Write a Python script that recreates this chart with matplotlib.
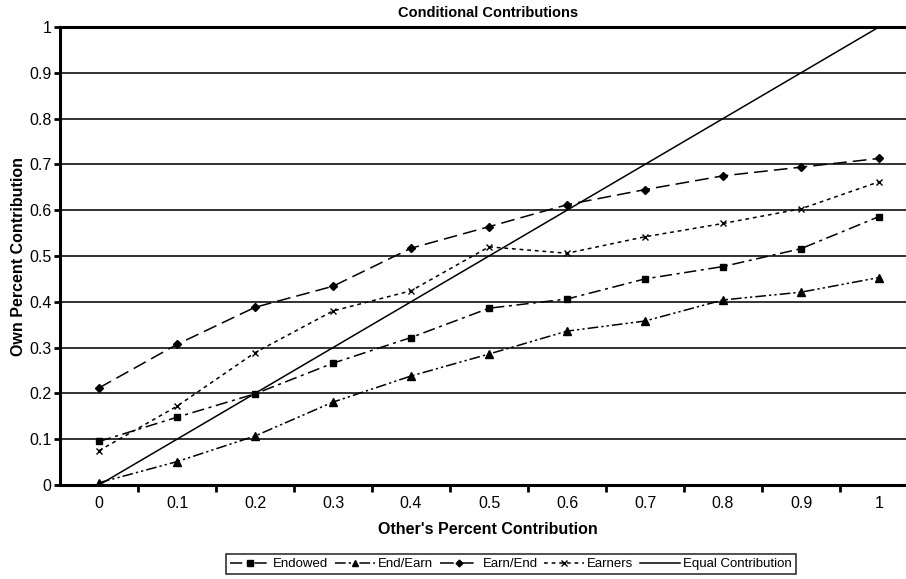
import numpy as np
import matplotlib.pyplot as plt

plt.rcParams['font.family'] = ['Liberation Sans', 'DejaVu Sans']

others = ['0', '0.1', '0.2', '0.3', '0.4', '0.5', '0.6', '0.7', '0.8', '0.9', '1']
equal = [0.0, 0.1, 0.2, 0.3, 0.4, 0.5, 0.6, 0.7, 0.8, 0.9, 1.0]
endowed = [0.095, 0.148, 0.199, 0.266, 0.322, 0.386, 0.406, 0.450, 0.477, 0.516, 0.586]
end_earn = [0.005, 0.051, 0.107, 0.181, 0.238, 0.286, 0.336, 0.358, 0.404, 0.421, 0.453]
earn_end = [0.212, 0.307, 0.388, 0.434, 0.517, 0.564, 0.612, 0.645, 0.675, 0.694, 0.713]
earners = [0.075, 0.172, 0.289, 0.380, 0.424, 0.520, 0.506, 0.542, 0.571, 0.603, 0.662]
yticks = [0, 0.1, 0.2, 0.3, 0.4, 0.5, 0.6, 0.7, 0.8, 0.9, 1]
ylabels = ['0', '0.1', '0.2', '0.3', '0.4', '0.5', '0.6', '0.7', '0.8', '0.9', '1']

fig = plt.figure(figsize=(9.06, 5.79), dpi=100)
ax = fig.add_axes([60 / 906, 1 - 485 / 579, 858 / 906, 458 / 579])
x = np.arange(len(others))

# grid lines behind the data
for v in yticks[1:-1]:
    ax.axhline(v, color='#222222', lw=1.3, zorder=1)

ax.plot(x, endowed, color='black', lw=1.1, ls=(0, (8, 3, 2, 3)),
        marker='s', ms=5, label='Endowed', zorder=3)
ax.plot(x, end_earn, color='black', lw=1.1, ls=(0, (7, 2, 1.5, 2, 1.5, 2)),
        marker='^', ms=5.5, label='End/Earn', zorder=3)
ax.plot(x, earn_end, color='black', lw=1.1, ls=(0, (9, 4)),
        marker='D', ms=4.3, label='Earn/End', zorder=3)
ax.plot(x, earners, color='black', lw=1.1, ls=(0, (2.5, 2.5)),
        marker='x', ms=5, mew=1, label='Earners', zorder=3)
ax.plot(x, equal, color='black', lw=1.1, ls='-', label='Equal Contribution', zorder=3)

ax.set_xlim(-0.5, len(others) - 0.5)
ax.set_ylim(0, 1)
ax.set_xticks(x)
ax.set_xticklabels(others)
ax.set_xticks(np.arange(0.5, len(others) - 0.5, 1), minor=True)
ax.tick_params(axis='x', which='major', length=0, labelsize=11.5, pad=8)
ax.tick_params(axis='x', which='minor', length=5, width=2, direction='out')
ax.set_yticks(yticks)
ax.set_yticklabels(ylabels)
ax.tick_params(axis='y', length=4, width=2, labelsize=11.5, pad=2)

for s in ['left', 'bottom', 'top']:
    ax.spines[s].set_linewidth(2.2)
ax.spines['right'].set_visible(False)

fig.text(488 / 906, 1 - 13 / 579, 'Conditional Contributions', ha='center', va='center',
         fontsize=10.5, fontweight='bold')
fig.text(488 / 906, 1 - 530 / 579, "Other's Percent Contribution", ha='center', va='center',
         fontsize=11.5, fontweight='bold')
fig.text(19 / 906, 1 - 256 / 579, 'Own Percent Contribution', ha='center', va='center',
         rotation=90, fontsize=11.5, fontweight='bold')

leg = fig.legend(loc='center', bbox_to_anchor=(511 / 906, 1 - 564 / 579), ncol=5,
                 fontsize=9.5, frameon=True, fancybox=False, handlelength=3.0,
                 handletextpad=0.25, columnspacing=0.5, borderpad=0.3, markerscale=0.8)
leg.get_frame().set_edgecolor('black')
leg.get_frame().set_linewidth(1.2)

fig.savefig('out.png', dpi=100)
